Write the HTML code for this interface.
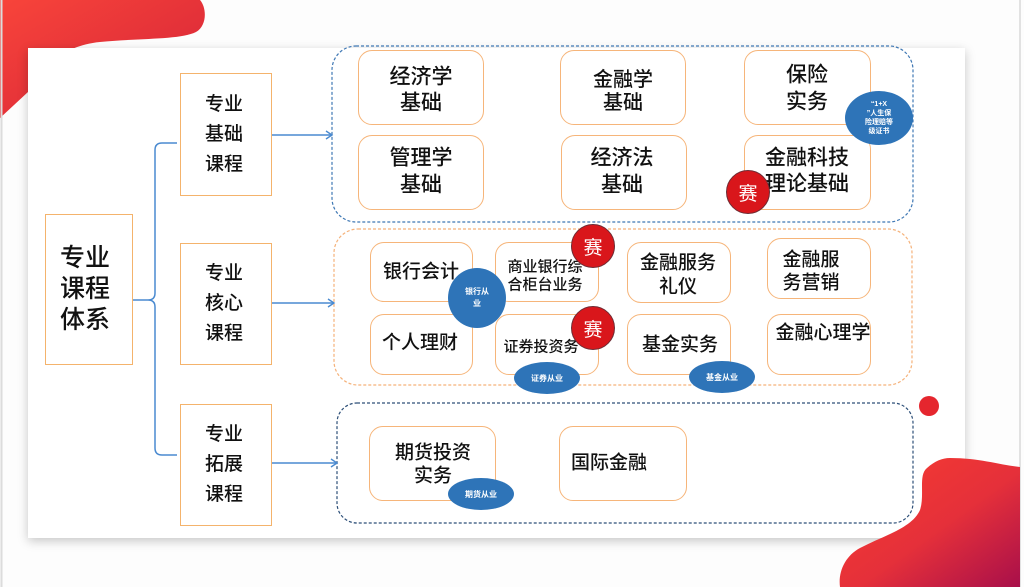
<!DOCTYPE html>
<html><head><meta charset="utf-8">
<style>
*{margin:0;padding:0;box-sizing:border-box}
html,body{width:1024px;height:587px;overflow:hidden;background:#fdfdfd;font-family:"Liberation Sans","Noto Sans CJK SC",sans-serif;color:#111}
.abs{position:absolute}
.card{position:absolute;left:28px;top:48px;width:937px;height:490px;background:#fff;box-shadow:0 3px 10px rgba(0,0,0,0.22)}
.sq{position:absolute;border:1.5px solid #f4b36c;background:#fff;display:flex;align-items:center;justify-content:center;text-align:center}
.rb{position:absolute;border:1.5px solid #f6b57a;border-radius:14px;background:#fff}
.t{position:absolute;white-space:nowrap;transform:translate(-50%,-50%);line-height:1;color:#111;font-weight:500}
.red{position:absolute;border-radius:50%;background:#d9161b;border:1.5px solid #6e2b33;color:#fff;display:flex;align-items:center;justify-content:center;font-size:19px}
.blue{position:absolute;border-radius:50%;background:#2e74b8;color:#fff;display:flex;align-items:center;justify-content:center;text-align:center;font-weight:bold}
</style></head><body>

<svg class="abs" style="left:0;top:0" width="1024" height="587">
<defs>
<linearGradient id="g1" x1="0" y1="0" x2="1" y2="1">
<stop offset="0" stop-color="#f8443a"/><stop offset="1" stop-color="#d42338"/></linearGradient>
<linearGradient id="g2" x1="0" y1="0" x2="1" y2="1">
<stop offset="0" stop-color="#f83c30"/><stop offset="0.55" stop-color="#e5303a"/><stop offset="1" stop-color="#a80f4a"/></linearGradient>
</defs>
<path d="M0,0 H200 C207,8 207,26 196,32 C180,40 140,38 100,42 C60,46 40,70 28,92 L0,118 Z" fill="url(#g1)"/>
<line x1="1.5" y1="0" x2="1.5" y2="587" stroke="#dcdcdc" stroke-width="2"/>
<line x1="1020" y1="0" x2="1020" y2="587" stroke="#e2e2e2" stroke-width="2"/>
</svg>

<div class="card"></div>

<svg class="abs" style="left:0;top:0" width="1024" height="587">
<rect x="332" y="46" width="581" height="176" rx="24" fill="none" stroke="#3f78b4" stroke-width="1.2" stroke-dasharray="3,2"/>
<rect x="334" y="229" width="578" height="156" rx="24" fill="none" stroke="#f5b27a" stroke-width="1.2" stroke-dasharray="3,2"/>
<rect x="337" y="403" width="576" height="120" rx="20" fill="none" stroke="#2d4f78" stroke-width="1.2" stroke-dasharray="3,2"/>
<path d="M177,143 H162 Q155,143 155,150 V293 Q155,300 148,300 H133 M148,300 Q155,300 155,307 V448 Q155,455 162,455 H177" fill="none" stroke="#4a8ad0" stroke-width="1.5"/>
<g stroke="#4a8ad0" stroke-width="1.4" fill="none">
<line x1="272" y1="135" x2="332" y2="135"/><path d="M326,131 L332,135 L326,139"/>
<line x1="272" y1="303" x2="334" y2="303"/><path d="M328,299 L334,303 L328,307"/>
<line x1="272" y1="463" x2="337" y2="463"/><path d="M331,459 L337,463 L331,467"/>
</g>
<path d="M950,458 C980,458 1000,465 1020,467 V587 H840 C838,572 845,556 860,548 C885,535 912,528 920,510 C925,495 918,475 927,468 C935,461 942,458 950,458 Z" fill="url(#g2)"/>
<circle cx="929" cy="406" r="10" fill="#e5262e"/>
</svg>

<div class="sq" style="left:45px;top:214px;width:88px;height:151px;font-size:25px;line-height:31px;padding-right:8px;font-weight:500">专业<br>课程<br>体系</div>
<div class="sq" style="left:180px;top:73px;width:92px;height:123px;font-size:19px;line-height:30px;padding-right:4px;font-weight:500">专业<br>基础<br>课程</div>
<div class="sq" style="left:180px;top:243px;width:92px;height:122px;font-size:19px;line-height:30px;padding-right:4px;font-weight:500">专业<br>核心<br>课程</div>
<div class="sq" style="left:180px;top:404px;width:92px;height:122px;font-size:19px;line-height:30px;padding-right:4px;font-weight:500">专业<br>拓展<br>课程</div>

<div class="rb" style="left:358px;top:50px;width:126px;height:75px"></div>
<div class="rb" style="left:560px;top:50px;width:126px;height:75px"></div>
<div class="rb" style="left:744px;top:50px;width:127px;height:75px"></div>
<div class="rb" style="left:358px;top:135px;width:126px;height:75px"></div>
<div class="rb" style="left:561px;top:135px;width:126px;height:75px"></div>
<div class="rb" style="left:744px;top:135px;width:127px;height:75px"></div>
<div class="t" style="left:421px;top:77px;font-size:21px">经济学</div>
<div class="t" style="left:421px;top:103px;font-size:21px">基础</div>
<div class="t" style="left:623px;top:80px;font-size:20px">金融学</div>
<div class="t" style="left:623px;top:103px;font-size:20px">基础</div>
<div class="t" style="left:807px;top:75px;font-size:21px">保险</div>
<div class="t" style="left:807px;top:102px;font-size:21px">实务</div>
<div class="t" style="left:421px;top:158px;font-size:21px">管理学</div>
<div class="t" style="left:421px;top:185px;font-size:21px">基础</div>
<div class="t" style="left:622px;top:158px;font-size:21px">经济法</div>
<div class="t" style="left:622px;top:185px;font-size:21px">基础</div>
<div class="t" style="left:807px;top:158px;font-size:21px">金融科技</div>
<div class="t" style="left:807px;top:184px;font-size:21px">理论基础</div>
<div class="blue" style="left:845px;top:91px;width:68px;height:54px;font-size:7px;line-height:9px">“1+X<br>”人生保<br>险理赔等<br>级证书</div>
<div class="red" style="left:726px;top:170px;width:44px;height:44px">赛</div>

<div class="rb" style="left:370px;top:242px;width:103px;height:60px"></div>
<div class="rb" style="left:495px;top:242px;width:104px;height:60px"></div>
<div class="rb" style="left:627px;top:242px;width:104px;height:61px"></div>
<div class="rb" style="left:767px;top:238px;width:104px;height:61px"></div>
<div class="rb" style="left:370px;top:314px;width:103px;height:61px"></div>
<div class="rb" style="left:495px;top:314px;width:104px;height:61px"></div>
<div class="rb" style="left:627px;top:314px;width:104px;height:61px"></div>
<div class="rb" style="left:767px;top:314px;width:104px;height:61px"></div>
<div class="t" style="left:421px;top:272px;font-size:19px">银行会计</div>
<div class="t" style="left:545px;top:267px;font-size:15px">商业银行综</div>
<div class="t" style="left:545px;top:285px;font-size:15px">合柜台业务</div>
<div class="t" style="left:678px;top:263px;font-size:19px">金融服务</div>
<div class="t" style="left:678px;top:287px;font-size:19px">礼仪</div>
<div class="t" style="left:811px;top:260px;font-size:19px">金融服</div>
<div class="t" style="left:811px;top:283px;font-size:19px">务营销</div>
<div class="t" style="left:420px;top:343px;font-size:19px">个人理财</div>
<div class="t" style="left:541px;top:347px;font-size:15px">证券投资务</div>
<div class="t" style="left:680px;top:345px;font-size:19px">基金实务</div>
<div class="t" style="left:823px;top:333px;font-size:19px">金融心理学</div>
<div class="blue" style="left:448px;top:268px;width:58px;height:60px;font-size:8px;line-height:12px">银行从<br>业</div>
<div class="red" style="left:571px;top:224px;width:44px;height:44px">赛</div>
<div class="red" style="left:571px;top:306px;width:44px;height:44px">赛</div>
<div class="blue" style="left:514px;top:362px;width:66px;height:32px;font-size:8px">证券从业</div>
<div class="blue" style="left:689px;top:361px;width:66px;height:32px;font-size:8px">基金从业</div>

<div class="rb" style="left:369px;top:426px;width:127px;height:75px"></div>
<div class="rb" style="left:559px;top:426px;width:128px;height:75px"></div>
<div class="t" style="left:433px;top:453px;font-size:19px">期货投资</div>
<div class="t" style="left:433px;top:476px;font-size:19px">实务</div>
<div class="t" style="left:609px;top:463px;font-size:19px">国际金融</div>
<div class="blue" style="left:448px;top:478px;width:66px;height:32px;font-size:8px">期货从业</div>

</body></html>
